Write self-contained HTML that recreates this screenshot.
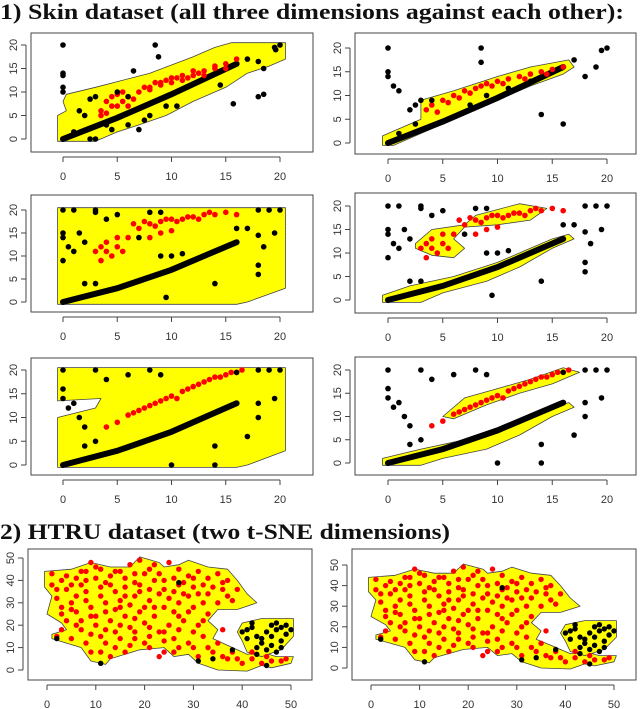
<!DOCTYPE html>
<html><head><meta charset="utf-8"><style>
body{margin:0;background:#fff;width:640px;height:709px;overflow:hidden}
svg{display:block}
.t{font-family:"Liberation Serif",serif;font-weight:bold;font-size:22px;fill:#111}
.tk{font-family:"Liberation Sans",sans-serif;font-size:11px;fill:#333}
</style></head><body>
<svg id="c" width="640" height="709" viewBox="0 0 640 709" xmlns="http://www.w3.org/2000/svg">
<text class="t" x="0" y="19" textLength="624" lengthAdjust="spacingAndGlyphs">1) Skin dataset (all three dimensions against each other):</text>
<text class="t" x="0" y="539" textLength="450" lengthAdjust="spacingAndGlyphs">2) HTRU dataset (two t-SNE dimensions)</text>
</svg>
<script>
// ---- data ----
const skinTicks=[0,5,10,15,20];
const htruTicks=[0,10,20,30,40,50];
const p1Yellow=[[-0.5,-0.5],[-0.5,5],[0.3,6],[0,8],[0.3,9.5],[3,11],[8,14],[12,17.5],[14,19.5],[15.5,20.5],[20.5,20.5],[20.5,17],[19,15.5],[17,14],[15,11],[12,8],[9.5,5],[7,3],[5,1.5],[3,-0.5]];
const p1Red=[[3.5,6],[4,8],[4.5,9],[5,9.5],[5.5,8],[6,7],[6.5,8.5],[7,10],[7.5,11],[8,11],[8.5,12],[9,12],[9.5,12.5],[10,12],[10.5,13],[11,13.5],[11.5,13],[12,13.5],[12.5,14],[13,14.5],[14,15],[15,16],[16,17],[4,5.5],[5,7],[3.5,5],[4.5,7],[5.5,10],[6,9],[8,10.5],[9,11.5],[10,13],[11,12.5],[12,14.5],[13,13.5],[14,15.5],[15,15]];
const p1Line=[[0,0],[5,4.5],[10,9.5],[16,16]];
const p1Black=[[0,20],[0,14],[0,13.5],[0,11],[0,10],[8.5,20],[8.8,17.5],[17,17],[18,16.5],[18.5,15],[18,9],[18.5,9.5],[15.7,7.5],[6.5,14.5],[2.5,8.5],[3,9],[1.5,6],[2,5],[4,3],[4.5,2],[6,3],[7,2],[9.5,7],[10.5,7],[14.5,11.5],[5,10],[6,9],[2.5,0],[3,0],[1,1.5],[8,5],[7.5,4],[19.5,19.5],[20,20],[19.6,19]];
const p2Yellow=[[-0.5,-0.5],[-0.5,1.5],[1,3],[3,5],[3,9],[6,11],[10,14],[13,16],[16.5,17.5],[17,16],[16,14.5],[13,12],[10,9],[7,6],[4,3],[2,1],[0.5,-0.5]];
const p2Red=[[3.5,7],[4,8],[5,9],[5.5,8.5],[6,10],[7,11],[8,11.5],[9,12.5],[10,13],[11,13.5],[12,14],[13,14.5],[14,15],[15,15.5],[16,16],[4.5,6.5],[8.5,12],[6.5,9.5],[7.5,10.5],[9.5,12],[10.5,12.5],[12.5,13.5],[14.5,14.5]];
const p2Line=[[0,0],[5,4.5],[10,9.5],[16,16]];
const p2Black=[[0,20],[0,15],[0,14],[0.5,12],[1,11],[2,7],[2.5,8],[3,9],[4,9],[7.5,8],[9,10],[11,11.5],[13,13],[18,14],[19,16],[19.5,19.5],[20,20],[8.5,20],[8.5,17],[17,17.5],[16,4],[14,6],[2.5,4],[1,2]];
const p3Yellow=[[-0.5,-0.5],[-0.5,20.5],[20.5,20.5],[20.5,3],[17,0],[16,-0.5]];
const p3Red=[[3,11],[4,13],[5,12],[4.5,10],[6,14],[7,16],[8,17],[9,17.5],[10,18],[11,18],[12,18.5],[13,19],[14,19],[15,19.5],[16,19],[9,15],[10,15.5],[3.5,9],[5.5,11],[6.5,17],[8,14],[3.5,12],[4,11],[5,14],[7.5,17.5],[8.5,16.5],[9.5,18],[10.5,17.5],[11.5,18.5],[12.5,18],[13.5,19.5]];
const p3Line=[[0,0],[5,3],[10,7],[14,11],[16,13]];
const p3Black=[[0,20],[1,20],[3,20],[3,19.5],[0,15],[0,14],[0.5,12],[1,11],[1.5,15],[2,13],[0,9],[4,18],[5,19],[8,19.5],[9,19.5],[7,14],[9,10],[10,10],[11,10.5],[16,16],[17,16],[18,20],[19,20],[20,20],[19.5,15],[18,14.5],[18.5,12],[18,8],[18,6],[14,4],[9.5,1],[2,4],[3,4]];
const p4Yellow=[[-0.5,-0.5],[-0.5,1],[2,3],[6,5],[10,8],[13,11],[15,13],[16.5,14],[17,13],[15,11],[12,7],[9,4],[5,1.5],[3,-0.5]];
const p4YellowB=[[2.5,12],[4,15],[7,16],[8,18],[12,20.5],[14.5,19.5],[13,17],[10,16],[7,15.5],[6,13],[7,11],[6,9],[4,9.5],[2.5,11]];
const p4Red=p3Red;
const p4Line=p3Line;
const p4Black=p3Black;
const p5Yellow=[[-0.5,-0.5],[-0.5,10],[3,12],[3.5,14],[-0.5,13.5],[-0.5,20.5],[20.5,20.5],[20.5,3],[17,0],[16,-0.5]];
const p5Red=[[4,8],[5,9],[6,10.5],[7,11.5],[8,12.5],[9,13.5],[10,14.5],[11,15.5],[12,16.5],[13,17.5],[14,18.5],[15,19],[16,19.5],[16.5,20],[7.5,12],[10.5,14],[12.5,17],[6.5,11],[8.5,13],[9.5,14],[11.5,16],[13.5,18],[14.5,18.5],[15.5,19.5]];
const p5Line=[[0,0],[5,3],[10,7],[14,11],[16,13]];
const p5Black=[[0,20],[0,16],[0,14],[0.5,12],[1,13],[1.5,10],[2,8],[3,20],[4,18],[6,19],[8,20],[9,19],[16,19.5],[18,20],[19,20],[20,20],[19.5,14],[18,13],[18,10],[17,6],[10,0],[14,0],[2,4],[3,5],[14,4]];
const p6Yellow=[[-0.5,-0.5],[-0.5,1],[3,3],[7,5],[11,8],[14,11],[16.5,13],[17,12],[15,10],[12,6],[9,3],[5,1],[3,-0.5]];
const p6YellowB=[[5,10],[7,14],[10,16],[13,18],[16,20.5],[17.5,19.5],[15,17],[12,15],[9,12.5],[6,9.5]];
const p6Red=p5Red;
const p6Line=p5Line;
const p6Black=p5Black;
const htruYellow=[[-0.5,44],[5,45],[9,48],[13,46],[17,46],[19,50.5],[23,48],[24,46],[27,47],[29,49],[33,46],[37,45],[39,40],[41,34],[43,30],[39,27],[35,27],[33,22],[35,18],[34,14],[37,11],[39,9],[41,7],[44,8],[47,6],[50.5,6],[50,3],[46,1],[44,2],[41,-0.5],[35,0],[31,3],[29,7],[26,6],[24,10],[19,9],[13,5],[12,2.5],[9,4],[7,10],[4,12],[1,14],[1,16],[4,18],[3,21],[0,25],[1,33],[-0.5,37]];
const htruYellowB=[[39,17],[40,21],[44,23],[50.5,23],[50.5,15],[48,9],[44,6],[41,8],[40,13]];
const htruRed=[[1,43],[1,38],[3,40],[4,36],[2,32],[5,30],[6,41],[8,44],[9,48],[11,45],[13,42],[15,44],[17,47],[19,49],[21,45],[23,43],[25,48],[27,45],[29,42],[31,44],[33,41],[35,43],[37,40],[39,36],[38,31],[35,30],[33,34],[30,37],[27,38],[24,36],[22,40],[19,38],[16,37],[14,35],[11,37],[8,35],[6,26],[9,28],[12,30],[15,31],[18,33],[21,31],[24,28],[27,30],[30,28],[33,25],[31,20],[28,22],[25,20],[22,24],[19,26],[16,24],[13,22],[10,20],[7,18],[5,14],[8,12],[11,15],[14,17],[17,19],[20,21],[23,17],[26,14],[29,12],[32,15],[35,12],[34,8],[31,6],[37,5],[40,3],[38,8],[20,12],[17,11],[14,10],[11,8],[26,8],[23,6],[2,15],[3,25],[36,18],[42,8],[46,4],[49,5],[44,3],[4,22],[7,38],[10,41],[18,43],[28,34],[21,36],[6,33],[9,24],[12,26],[15,28],[18,17],[21,15],[24,13],[27,24],[30,17],[16,41],[26,41],[36,36],[3,28],
[2,36],[4,42],[7,44],[10,46],[12,39],[14,44],[16,33],[18,39],[20,43],[22,47],[24,40],[26,35],[28,39],[30,41],[32,38],[34,37],[36,39],[37,33],[32,30],[29,33],[25,32],[23,34],[20,28],[17,29],[14,27],[11,33],[8,31],[5,27],[7,22],[9,16],[12,18],[15,20],[18,23],[21,19],[24,17],[27,18],[29,26],[32,22],[30,10],[27,10],[24,8],[21,10],[18,14],[15,14],[12,12],[9,8],[13,6],[16,8],[33,10],[36,6],[39,5],[42,5],[45,6],[48,4],[26,26],[22,28],[10,24],[6,20],[3,18],[31,34],[19,35],[13,38],[8,40],[5,38]];
const htruBlack=[[2,14],[11,3],[27,39],[31,4],[34,5],[45,2],[41,18],[42,21],[43,15],[44,12],[45,17],[46,20],[47,21],[48,19],[49,20],[50,18],[48,13],[48,10],[47,8],[45,9],[43,7],[40,17],[41,14],[44,14],[46,15],[38,9],[42,19],[47,18],[49,16],[43,10],[46,11]];

// ---- drawing ----
const NS="http://www.w3.org/2000/svg";
const svg=document.getElementById('c');
function mk(tag,attrs,parent){const e=document.createElementNS(NS,tag);for(const k in attrs)e.setAttribute(k,attrs[k]);(parent||svg).appendChild(e);return e;}
function panel(name,box,xr,yr,ticks,d,pr){
  const g=mk('g',{});
  
  
  const X=v=>xr[0]+(v-ticks[0])/(ticks[ticks.length-1]-ticks[0])*(xr[1]-xr[0]);
  const Y=v=>yr[0]+(v-ticks[0])/(ticks[ticks.length-1]-ticks[0])*(yr[1]-yr[0]);
  (d.yellow||[]).forEach((poly,i)=>{
    const p=mk('polygon',{points:poly.map(q=>X(q[0]).toFixed(1)+','+Y(q[1]).toFixed(1)).join(' '),fill:'#ffff00',stroke:'#444','stroke-width':0.8,'stroke-linejoin':'round'},g);
    
    
  });
  if(d.line){
    const l=mk('polyline',{points:d.line.map(q=>X(q[0]).toFixed(1)+','+Y(q[1]).toFixed(1)).join(' '),fill:'none',stroke:'#000','stroke-width':6,'stroke-linecap':'round'},g);
    
    
  }
  d.red.forEach(q=>{
    const c=mk('circle',{cx:X(q[0]).toFixed(1),cy:Y(q[1]).toFixed(1),r:pr,fill:'#ff0000'},g);
    
    
  });
  d.black.forEach(q=>{
    const c=mk('circle',{cx:X(q[0]).toFixed(1),cy:Y(q[1]).toFixed(1),r:pr,fill:'#000'},g);
    
    
  });
  const b=mk('rect',{x:box[0],y:box[1],width:box[2]-box[0],height:box[3]-box[1],fill:'none',stroke:'#444','stroke-width':1},g);
  
  
  mk('line',{x1:X(ticks[0]),x2:X(ticks[ticks.length-1]),y1:box[3]+5,y2:box[3]+5,stroke:'#444'},g);
  mk('line',{y1:Y(ticks[0]),y2:Y(ticks[ticks.length-1]),x1:box[0]-5,x2:box[0]-5,stroke:'#444'},g);
  ticks.forEach(t=>{
    mk('line',{x1:X(t),x2:X(t),y1:box[3]+5,y2:box[3]+10,stroke:'#444'},g);
    const tx=mk('text',{x:X(t),y:box[3]+28,'text-anchor':'middle',class:'tk'},g);
    tx.textContent=t;
    
    
    mk('line',{y1:Y(t),y2:Y(t),x1:box[0]-5,x2:box[0]-10,stroke:'#444'},g);
    const ty=mk('text',{x:0,y:0,'text-anchor':'middle',class:'tk',transform:'translate('+(box[0]-14)+','+Y(t)+') rotate(-90)'},g);
    ty.textContent=t;
    
    
  });
}
panel('skin-panel-1',[31,33,313,152],[63,280],[139,45],skinTicks,{yellow:[p1Yellow],line:p1Line,red:p1Red,black:p1Black},2.8);
panel('skin-panel-2',[355,33,636,154],[388,607],[143,48],skinTicks,{yellow:[p2Yellow],line:p2Line,red:p2Red,black:p2Black},2.8);
panel('skin-panel-3',[31,195,313,312],[63,280],[302,210],skinTicks,{yellow:[p3Yellow],line:p3Line,red:p3Red,black:p3Black},2.8);
panel('skin-panel-4',[355,193,636,313],[388,607],[300,206],skinTicks,{yellow:[p4Yellow,p4YellowB],line:p4Line,red:p4Red,black:p4Black},2.8);
panel('skin-panel-5',[31,358,313,475],[63,280],[465,370],skinTicks,{yellow:[p5Yellow],line:p5Line,red:p5Red,black:p5Black},2.8);
panel('skin-panel-6',[355,357,636,475],[388,607],[463,370],skinTicks,{yellow:[p6Yellow,p6YellowB],line:p6Line,red:p6Red,black:p6Black},2.8);
panel('htru-panel-1',[28,549,312,680],[47,291],[670,558],htruTicks,{yellow:[htruYellow,htruYellowB],red:htruRed,black:htruBlack},2.7);
panel('htru-panel-2',[352,549,636,680],[371,614],[668,565],htruTicks,{yellow:[htruYellow,htruYellowB],red:htruRed,black:htruBlack},2.7);
</script>
</body></html>
